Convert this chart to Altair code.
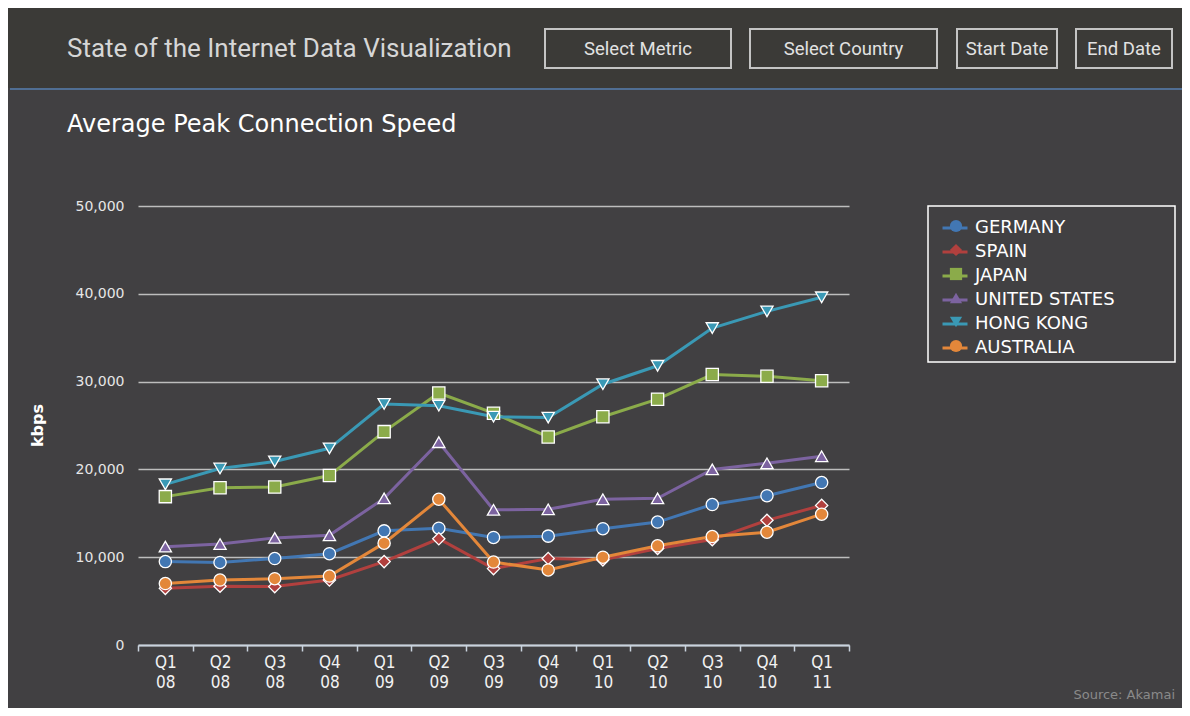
import altair as alt
import pandas as pd

quarters = ["Q1 08", "Q2 08", "Q3 08", "Q4 08", "Q1 09", "Q2 09", "Q3 09",
            "Q4 09", "Q1 10", "Q2 10", "Q3 10", "Q4 10", "Q1 11"]
countries = ["GERMANY", "SPAIN", "JAPAN", "UNITED STATES", "HONG KONG", "AUSTRALIA"]

germany = [9500, 9400, 9850, 10400, 13000, 13300, 12250, 12400, 13250, 14000, 16000, 17000, 18500]
spain = [6450, 6700, 6650, 7400, 9500, 12100, 8700, 9850, 9700, 11000, 12000, 14200, 15900]
japan = [16900, 17900, 18000, 19300, 24300, 28700, 26400, 23700, 26000, 28000, 30800, 30600, 30100]
united_states = [11200, 11500, 12200, 12500, 16700, 23100, 15400, 15450, 16600, 16700, 20000, 20700, 21500]
hong_kong = [18300, 20100, 20900, 22400, 27450, 27250, 26000, 25900, 29700, 31800, 36100, 38000, 39600]
australia = [7000, 7400, 7550, 7850, 11600, 16600, 9450, 8550, 10000, 11300, 12350, 12850, 14900]

colors = ["#4277b3", "#b1403e", "#8bab4a", "#7c63a0", "#3a99b5", "#e3873a"]
shapes = ["circle", "diamond", "square", "triangle-up", "triangle-down", "circle"]
y_ticks = [0, 10000, 20000, 30000, 40000, 50000]

buttons = ["Select Metric", "Select Country", "Start Date", "End Date"]
header_title = "State of the Internet Data Visualization"
chart_title = "Average Peak Connection Speed"
source_text = "Source: Akamai"

rows = []
for c, vals in zip(countries, [germany, spain, japan, united_states, hong_kong, australia]):
    for q, v in zip(quarters, vals):
        rows.append({"quarter": q, "country": c, "kbps": v})
df = pd.DataFrame(rows)

PANEL = "#414042"
HEADER = "#3b3a37"
NARROW = "Roboto, Liberation Sans, sans-serif"
COND = "DejaVu Sans Condensed, Roboto, sans-serif"
SANS = "DejaVu Sans, Verdana, sans-serif"

x_enc = alt.X(
    "quarter:N", sort=quarters,
    scale=alt.Scale(type="band", paddingInner=0, paddingOuter=0),
    axis=alt.Axis(
        title=None, labelAngle=0, labelExpr="split(datum.label, ' ')",
        labelFont=COND, labelFontSize=17, labelLineHeight=20, labelColor="#f2f2f2",
        labelPadding=3, domainColor="#c9d3de", domainWidth=2, tickColor="#c9d3de",
        tickWidth=1.5, tickSize=6, tickBand="extent", grid=False,
    ),
)
y_enc = alt.Y(
    "kbps:Q",
    scale=alt.Scale(domain=[0, 50000], nice=False),
    axis=alt.Axis(
        values=y_ticks, format=",d", domain=False, ticks=False,
        labelFont=SANS, labelFontSize=14, labelColor="#e6e6e6", labelPadding=14,
        gridColor="#bdbdbd", gridWidth=1.5,
        title="kbps", titleFont=SANS, titleFontSize=16, titleFontWeight="bold",
        titleColor="white", titleAngle=270, titleX=-101, titleY=219,
        titleAlign="center", titleBaseline="middle",
    ),
)

lines = alt.Chart(df).mark_line(strokeWidth=3).encode(
    x=x_enc, y=y_enc,
    color=alt.Color(
        "country:N",
        scale=alt.Scale(domain=countries, range=colors),
        legend=alt.Legend(
            orient="none", legendX=803, legendY=8, title=None, padding=0,
            symbolType="stroke", symbolSize=625, symbolStrokeWidth=3,
            labelFont=SANS, labelFontSize=18, labelColor="white", labelOffset=6,
            rowPadding=1,
        ),
    ),
)

shape_legend = alt.Legend(
    orient="none", legendX=810, legendY=12, title=None, padding=0,
    symbolSize=150, symbolStrokeWidth=0, symbolOpacity=1,
    labelFont=SANS, labelFontSize=16, labelExpr="''", labelOffset=0,
    rowPadding=8,
)
points = alt.Chart(df).mark_point(
    filled=True, size=150, stroke="white", strokeWidth=1.3, opacity=1
).transform_calculate(country2="datum.country").encode(
    x=x_enc, y=y_enc,
    fill=alt.Fill("country2:N", scale=alt.Scale(domain=countries, range=colors), legend=shape_legend),
    shape=alt.Shape("country2:N", scale=alt.Scale(domain=countries, range=shapes), legend=shape_legend),
)

one = alt.Data(values=[{"a": 1}])


def rect(x1, x2, y1, y2, **kw):
    return alt.Chart(one).mark_rect(**kw).encode(
        x=alt.value(x1), x2=alt.value(x2), y=alt.value(y1), y2=alt.value(y2))


def text(t, x, y, **kw):
    return alt.Chart(one).mark_text(text=t, **kw).encode(x=alt.value(x), y=alt.value(y))


deco = [
    rect(-130, 1044, -198, -118, color=HEADER),
    alt.Chart(one).mark_rule(color="#506e93", strokeWidth=2).encode(
        x=alt.value(-128), x2=alt.value(1044), y=alt.value(-117)),
    text(header_title, -71, -157, align="left", baseline="middle", font=NARROW,
         fontSize=26, color="#d6d6d6"),
]
button_boxes = [(407, 593), (612, 799), (819, 919), (938, 1034)]
for label, (bx1, bx2) in zip(buttons, button_boxes):
    deco.append(rect(bx1, bx2, -177, -138, fill=HEADER, stroke="#c4c4c4", strokeWidth=2))
    deco.append(text(label, (bx1 + bx2) / 2, -157, align="center", baseline="middle",
                     font=NARROW, fontSize=18.5, color="#e2e2e2"))
deco += [
    text(chart_title, -71, -81, align="left", baseline="middle", font=SANS,
         fontSize=24, color="white"),
    text(source_text, 1037, 489, align="right", baseline="middle", font=SANS,
         fontSize=13, color="#8a8a8a"),
    rect(790, 1037, 0, 156, fill=PANEL, stroke="white", strokeWidth=1.5),
]

chart = alt.layer(*deco, lines, points).resolve_scale(
    color="independent", fill="independent", shape="independent"
).properties(
    width=711, height=439,
    padding={"left": 130, "top": 198, "right": 333, "bottom": 63},
    autosize=alt.AutoSizeParams(type="none"),
    background=PANEL,
).configure_view(strokeWidth=0)

chart.save("out.html", embed_options={"renderer": "svg", "actions": False})
